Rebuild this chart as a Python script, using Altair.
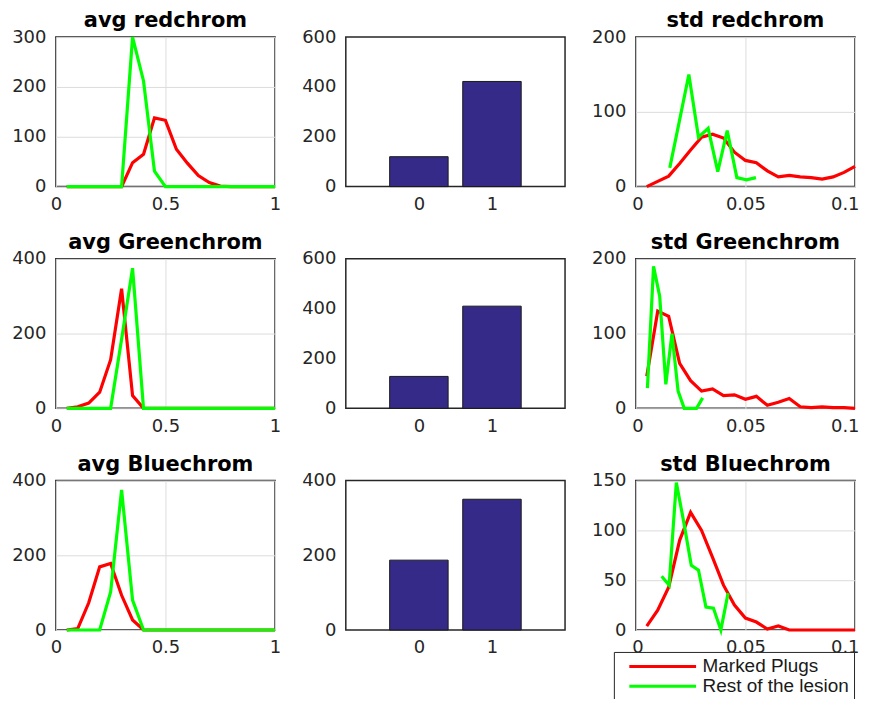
import altair as alt
import pandas as pd

FONT = "DejaVu Sans"
LEGEND_FONT = "Liberation Sans"
RED = "#ff0000"
GREEN = "#00ff00"
BAR = "#352a87"
SERIES = ["Marked Plugs", "Rest of the lesion"]

# ---- avg panels: bin centres 0.05 .. 1.0
avg_x = [0.05, 0.10, 0.15, 0.20, 0.25, 0.30, 0.35, 0.40, 0.45, 0.50,
         0.55, 0.60, 0.65, 0.70, 0.75, 0.80, 0.85, 0.90, 0.95, 1.00]
avg_red_marked = [0, 0, 0, 0, 0, 0, 48, 65, 138, 133, 75, 47, 22, 8, 1, 0, 0, 0, 0, 0]
avg_red_rest = [0, 0, 0, 0, 0, 0, 300, 212, 31, 0, 0, 0, 0, 0, 0, 0, 0, 0, 0, 0]
avg_green_marked = [0, 4, 14, 43, 130, 320, 34, 0, 0, 0, 0, 0, 0, 0, 0, 0, 0, 0, 0, 0]
avg_green_rest = [0, 0, 0, 0, 0, 185, 375, 0, 0, 0, 0, 0, 0, 0, 0, 0, 0, 0, 0, 0]
avg_blue_marked = [0, 4, 73, 169, 178, 93, 27, 0, 0, 0, 0, 0, 0, 0, 0, 0, 0, 0, 0, 0]
avg_blue_rest = [0, 0, 0, 0, 102, 375, 80, 0, 0, 0, 0, 0, 0, 0, 0, 0, 0, 0, 0, 0]

# ---- std panels: marked plugs bin centres 0.005 .. 0.1
std_x = [0.005, 0.010, 0.015, 0.020, 0.025, 0.030, 0.035, 0.040, 0.045, 0.050,
         0.055, 0.060, 0.065, 0.070, 0.075, 0.080, 0.085, 0.090, 0.095, 0.100]
std_red_marked = [0, 7, 14, 31, 49, 66, 70, 65, 46, 35, 32, 21, 13, 15, 13, 12, 10, 13, 19, 27]
std_red_rest_x = [0.0155, 0.0199, 0.0242, 0.0286, 0.0330, 0.0374, 0.0417, 0.0461, 0.0505, 0.0548]
std_red_rest = [25, 88, 150, 66, 78, 20, 75, 12, 9, 12]

std_green_marked = [43, 130, 123, 60, 37, 23, 26, 17, 18, 12, 16, 4, 8, 13, 2, 1, 2, 1, 1, 0]
std_green_rest_x = [0.0053, 0.0081, 0.0109, 0.0137, 0.0165, 0.0193, 0.0221, 0.0249, 0.0277, 0.0305]
std_green_rest = [27, 190, 150, 32, 100, 23, 0, 0, 0, 14]

std_blue_marked = [4, 20, 43, 90, 118, 100, 73, 45, 25, 12, 8, 1, 4, 0, 0, 0, 0, 0, 0, 0]
std_blue_rest_x = [0.0118, 0.0152, 0.0185, 0.0219, 0.0253, 0.0286, 0.0320, 0.0354, 0.0388, 0.0421]
std_blue_rest = [54, 45, 148, 108, 65, 60, 23, 22, 0, 37]

# ---- bar panels
bar_cats = [0, 1]
bar_red = [120, 422]
bar_green = [128, 410]
bar_blue = [187, 350]

W = 220
H = 150


def axis_x(values, flush=False):
    kw = dict(values=values, title=None, grid=True, ticks=False, domain=False,
              labelPadding=9, format="~r")
    if flush:
        kw["labelFlush"] = True
        kw["labelFlushOffset"] = 4
    else:
        kw["labelFlush"] = False
    return alt.Axis(**kw)


def axis_y(values):
    return alt.Axis(values=values, title=None, grid=True, ticks=False, domain=False,
                    labelPadding=10, format="d")


def line_panel(title, mx, my, rx, ry, xdom, xticks, ydom, yticks, legend=None, flush=False):
    df = pd.DataFrame({
        "x": list(mx) + list(rx),
        "y": list(my) + list(ry),
        "s": [SERIES[0]] * len(mx) + [SERIES[1]] * len(rx),
    })
    return alt.Chart(df, title=alt.Title(title, frame="group", offset=-3)).mark_line(
        strokeWidth=3.2, clip=False, strokeJoin="miter"
    ).encode(
        x=alt.X("x:Q", scale=alt.Scale(domain=xdom, nice=False, zero=False), axis=axis_x(xticks, flush)),
        y=alt.Y("y:Q", scale=alt.Scale(domain=ydom, nice=False), axis=axis_y(yticks)),
        color=alt.Color("s:N", scale=alt.Scale(domain=SERIES, range=[RED, GREEN]), legend=legend),
    ).properties(width=W, height=H)


def bar_panel(vals, ydom, yticks):
    df = pd.DataFrame({"c": bar_cats, "v": vals})
    return alt.Chart(df).transform_calculate(
        x0="datum.c - 0.4", x1="datum.c + 0.4"
    ).mark_bar(color=BAR, stroke="#1a1a1a", strokeWidth=1).encode(
        x=alt.X("x0:Q", scale=alt.Scale(domain=[-1, 2], nice=False, zero=False),
                axis=alt.Axis(values=[0, 1], title=None, grid=False, ticks=False, domain=False,
                              labelPadding=9, format="d")),
        x2="x1:Q",
        y=alt.Y("v:Q", scale=alt.Scale(domain=ydom, nice=False),
                axis=alt.Axis(values=yticks, title=None, grid=False, ticks=False, domain=False,
                              labelPadding=10, format="d")),
        y2=alt.datum(0),
    ).properties(width=W, height=H)


legend = alt.Legend(
    orient="none", legendX=-22, legendY=172, title=None,
    symbolType="stroke", symbolSize=4489, symbolStrokeWidth=3, symbolOffset=9,
    clipHeight=19, rowPadding=0, labelOffset=5,
    labelFont=LEGEND_FONT, labelFontSize=19, labelColor="#1a1a1a",
    strokeColor="#262626", fillColor="white", padding=5,
)

avg_ticks = [0, 0.5, 1]
std_ticks = [0, 0.05, 0.1]

panels = [
    line_panel("avg redchrom", avg_x, avg_red_marked, avg_x, avg_red_rest,
               [0, 1], avg_ticks, [0, 300], [0, 100, 200, 300]),
    bar_panel(bar_red, [0, 600], [0, 200, 400, 600]),
    line_panel("std redchrom", std_x, std_red_marked, std_red_rest_x, std_red_rest,
               [0, 0.1], std_ticks, [0, 200], [0, 100, 200], flush=True),
    line_panel("avg Greenchrom", avg_x, avg_green_marked, avg_x, avg_green_rest,
               [0, 1], avg_ticks, [0, 400], [0, 200, 400]),
    bar_panel(bar_green, [0, 600], [0, 200, 400, 600]),
    line_panel("std Greenchrom", std_x, std_green_marked, std_green_rest_x, std_green_rest,
               [0, 0.1], std_ticks, [0, 200], [0, 100, 200], flush=True),
    line_panel("avg Bluechrom", avg_x, avg_blue_marked, avg_x, avg_blue_rest,
               [0, 1], avg_ticks, [0, 400], [0, 200, 400]),
    bar_panel(bar_blue, [0, 400], [0, 200, 400]),
    line_panel("std Bluechrom", std_x, std_blue_marked, std_blue_rest_x, std_blue_rest,
               [0, 0.1], std_ticks, [0, 150], [0, 50, 100, 150], legend=legend, flush=True),
]

chart = alt.concat(*panels, columns=3, spacing={"row": 72.5, "column": 71}, bounds="flush").resolve_scale(
    color="independent"
).configure_view(
    stroke="#262626", strokeWidth=1.5
).configure_axis(
    labelFont=FONT, labelFontSize=18, labelColor="#262626",
    gridColor="#dcdcdc", gridWidth=1,
).configure_title(
    font=FONT, fontSize=21, fontWeight="bold", color="#000000", anchor="middle"
).properties(
    padding={"left": 2, "top": 0, "right": -1, "bottom": -6}
)

chart.save("out.html", embed_options={"renderer": "svg", "actions": False})
